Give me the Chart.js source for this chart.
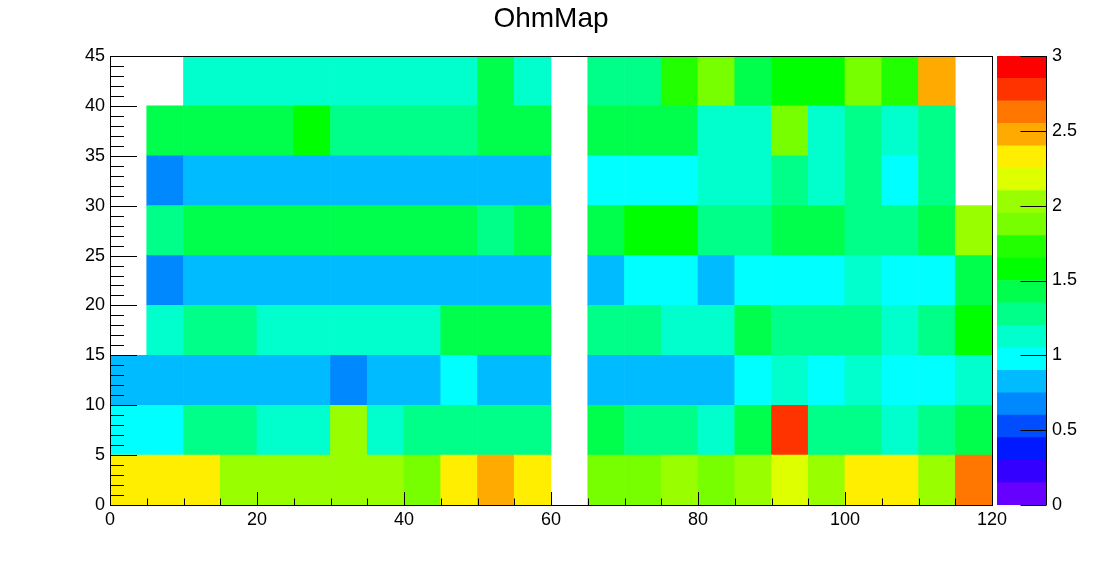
<!DOCTYPE html>
<html>
<head>
<meta charset="utf-8">
<title>OhmMap</title>
<script src="https://cdn.jsdelivr.net/npm/chart.js@4.4.0/dist/chart.umd.min.js"></script>
<style>
  html, body { margin: 0; padding: 0; background: #fff; }
  #wrap { position: relative; width: 1102px; height: 562px; }
  #wrap canvas { position: absolute; top: 0; }
  #main { left: 0; }
  #zaxis { left: 990px; }
</style>
</head>
<body>
<div id="wrap">
  <canvas id="main" width="1102" height="562"></canvas>
  <canvas id="zaxis" width="112" height="562"></canvas>
</div>
<script>
// bin lower edges
const xBins = [0, 5, 10, 15, 20, 25, 30, 35, 40, 45, 50, 55, 60, 65, 70, 75, 80, 85, 90, 95, 100, 105, 110, 115];
const yBins = [0, 5, 10, 15, 20, 25, 30, 35, 40];
const binW = 5;

// ohm values per y row (bottom to top), null = empty bin
const row0 = [2.33, 2.33, 2.33, 2.03, 2.03, 2.03, 2.03, 2.03, 1.88, 2.33, 2.48, 2.33, null, 1.88, 1.88, 2.03, 1.88, 2.03, 2.18, 2.03, 2.33, 2.33, 2.03, 2.63];
const row1 = [0.98, 0.98, 1.28, 1.28, 1.13, 1.13, 2.03, 1.13, 1.28, 1.28, 1.28, 1.28, null, 1.43, 1.28, 1.28, 1.13, 1.43, 2.78, 1.28, 1.28, 1.13, 1.28, 1.43];
const row2 = [0.83, 0.83, 0.83, 0.83, 0.83, 0.83, 0.68, 0.83, 0.83, 0.98, 0.83, 0.83, null, 0.83, 0.83, 0.83, 0.83, 0.98, 1.13, 0.98, 1.13, 0.98, 0.98, 1.13];
const row3 = [null, 1.13, 1.28, 1.28, 1.13, 1.13, 1.13, 1.13, 1.13, 1.43, 1.43, 1.43, null, 1.28, 1.28, 1.13, 1.13, 1.43, 1.28, 1.28, 1.28, 1.13, 1.28, 1.58];
const row4 = [null, 0.68, 0.83, 0.83, 0.83, 0.83, 0.83, 0.83, 0.83, 0.83, 0.83, 0.83, null, 0.83, 0.98, 0.98, 0.83, 0.98, 0.98, 0.98, 1.13, 0.98, 0.98, 1.43];
const row5 = [null, 1.28, 1.43, 1.43, 1.43, 1.43, 1.43, 1.43, 1.43, 1.43, 1.28, 1.43, null, 1.43, 1.58, 1.58, 1.28, 1.28, 1.43, 1.43, 1.28, 1.28, 1.43, 2.03];
const row6 = [null, 0.68, 0.83, 0.83, 0.83, 0.83, 0.83, 0.83, 0.83, 0.83, 0.83, 0.83, null, 0.98, 0.98, 0.98, 1.13, 1.13, 1.28, 1.13, 1.28, 0.98, 1.28, null];
const row7 = [null, 1.43, 1.43, 1.43, 1.43, 1.58, 1.28, 1.28, 1.28, 1.28, 1.43, 1.43, null, 1.43, 1.43, 1.43, 1.13, 1.13, 1.88, 1.13, 1.28, 1.13, 1.28, null];
const row8 = [null, null, 1.13, 1.13, 1.13, 1.13, 1.13, 1.13, 1.13, 1.13, 1.43, 1.13, null, 1.28, 1.28, 1.73, 1.88, 1.43, 1.58, 1.58, 1.88, 1.73, 2.48, null];
const rows = [row0, row1, row2, row3, row4, row5, row6, row7, row8];

// colour palette, 20 levels from zMin to zMax
const zMin = 0, zMax = 3;
const paletteColors = ['#6600ff', '#3300ff', '#0019ff', '#004dff', '#0088ff', '#00bbff', '#00ffff', '#00ffcc',
  '#00ff88', '#00ff4d', '#00ff00', '#22ff00', '#77ff00', '#99ff00', '#ddff00', '#ffee00', '#ffaa00', '#ff7700', '#ff3300', '#ff0000'];

const xTicks = [0, 20, 40, 60, 80, 100, 120];
const yTicks = [0, 5, 10, 15, 20, 25, 30, 35, 40, 45];
const zTicks = [0, 0.5, 1, 1.5, 2, 2.5, 3];

const FONT = "'Liberation Sans', Arial, Helvetica, sans-serif";
const LABEL_SIZE = 18;
Chart.defaults.font.family = FONT;
Chart.defaults.color = '#000';

function colorFor(v) {
  const n = paletteColors.length;
  let i = Math.floor((v - zMin) / (zMax - zMin) * n);
  i = Math.max(0, Math.min(n - 1, i));
  return paletteColors[i];
}

const datasets = rows.map((vals, r) => {
  const cells = [];
  vals.forEach((v, i) => {
    if (v !== null) cells.push({x: xBins[i] + binW / 2, y: [yBins[r], yBins[r] + binW], v: v});
  });
  return {
    label: yBins[r] + '-' + (yBins[r] + binW),
    data: cells,
    backgroundColor: cells.map(c => colorFor(c.v)),
    borderWidth: 0,
    grouped: false,
    barPercentage: 1,
    categoryPercentage: 1
  };
});

// ROOT style frame with ticks drawn inside
const rootAxes = {
  id: 'rootAxes',
  afterDatasetsDraw(chart) {
    const {ctx, chartArea: a} = chart;
    const x = chart.scales.x, y = chart.scales.y;
    ctx.save();
    ctx.strokeStyle = '#000';
    ctx.lineWidth = 1;
    ctx.beginPath();
    for (let v = x.min; v <= x.max; v += 5) {
      const px = Math.round(x.getPixelForValue(v)) + 0.5;
      const len = v % 20 === 0 ? 13 : 6.5;
      ctx.moveTo(px, a.bottom);
      ctx.lineTo(px, a.bottom - len);
    }
    for (let v = y.min; v <= y.max; v += 1) {
      const py = Math.round(y.getPixelForValue(v)) + 0.5;
      const len = v % 5 === 0 ? 27 : 14;
      ctx.moveTo(a.left, py);
      ctx.lineTo(a.left + len, py);
    }
    ctx.stroke();
    ctx.strokeRect(a.left + 0.5, a.top + 0.5, a.right - a.left, a.bottom - a.top);
    ctx.restore();
  }
};

new Chart(document.getElementById('main'), {
  type: 'bar',
  data: {datasets: datasets},
  options: {
    responsive: false,
    animation: false,
    layout: {padding: 0},
    plugins: {
      legend: {display: false},
      tooltip: {enabled: false},
      title: {
        display: true,
        text: 'OhmMap',
        color: '#000',
        font: {family: FONT, size: 28, weight: 'normal'},
        padding: {top: 2, bottom: 20.4}
      }
    },
    scales: {
      x: {
        type: 'linear', min: 0, max: 120, offset: false,
        afterBuildTicks: s => { s.ticks = xTicks.map(v => ({value: v})); },
        ticks: {font: {size: LABEL_SIZE}, color: '#000', padding: 4, maxRotation: 0, autoSkip: false},
        grid: {display: false, drawTicks: false},
        border: {display: false},
        afterFit: s => { s.height = 57; }
      },
      y: {
        type: 'linear', min: 0, max: 45,
        afterBuildTicks: s => { s.ticks = yTicks.map(v => ({value: v})); },
        ticks: {font: {size: LABEL_SIZE}, color: '#000', padding: 5},
        grid: {display: false, drawTicks: false},
        border: {display: false},
        afterFit: s => { s.width = 110; }
      },
      // empty space on the right where the colour bar sits
      ySpace: {
        type: 'linear', position: 'right', min: 0, max: 45,
        ticks: {display: false},
        grid: {display: false, drawTicks: false},
        border: {display: false},
        afterFit: s => { s.width = 110; }
      }
    }
  },
  plugins: [rootAxes]
});

// colour bar
const paletteTicks = {
  id: 'paletteTicks',
  afterDatasetsDraw(chart) {
    const {ctx, chartArea: a} = chart;
    const z = chart.scales.y;
    ctx.save();
    ctx.strokeStyle = '#000';
    ctx.lineWidth = 1;
    ctx.beginPath();
    const ax = Math.round(a.right) + 0.5;
    ctx.moveTo(ax, a.top);
    ctx.lineTo(ax, a.bottom);
    zTicks.forEach(v => {
      const py = Math.round(z.getPixelForValue(v)) + 0.5;
      ctx.moveTo(ax, py);
      ctx.lineTo(ax - 26, py);
    });
    ctx.stroke();
    ctx.restore();
  }
};

const zStep = (zMax - zMin) / paletteColors.length;
new Chart(document.getElementById('zaxis'), {
  type: 'bar',
  data: {
    labels: ['z'],
    datasets: paletteColors.map((c, i) => ({
      data: [[zMin + i * zStep, zMin + (i + 1) * zStep]],
      backgroundColor: c,
      borderWidth: 0,
      grouped: false,
      barPercentage: 1,
      categoryPercentage: 1
    }))
  },
  options: {
    responsive: false,
    animation: false,
    layout: {padding: {left: 7, right: 0, top: 56, bottom: 57}},
    plugins: {legend: {display: false}, tooltip: {enabled: false}},
    scales: {
      x: {display: false},
      y: {
        position: 'right', min: zMin, max: zMax,
        afterBuildTicks: s => { s.ticks = zTicks.map(v => ({value: v})); },
        ticks: {font: {size: LABEL_SIZE}, color: '#000', padding: 6, callback: v => String(v)},
        grid: {display: false, drawTicks: false},
        border: {display: false},
        afterFit: s => { s.width = 56; }
      }
    }
  },
  plugins: [paletteTicks]
});
</script>
</body>
</html>
